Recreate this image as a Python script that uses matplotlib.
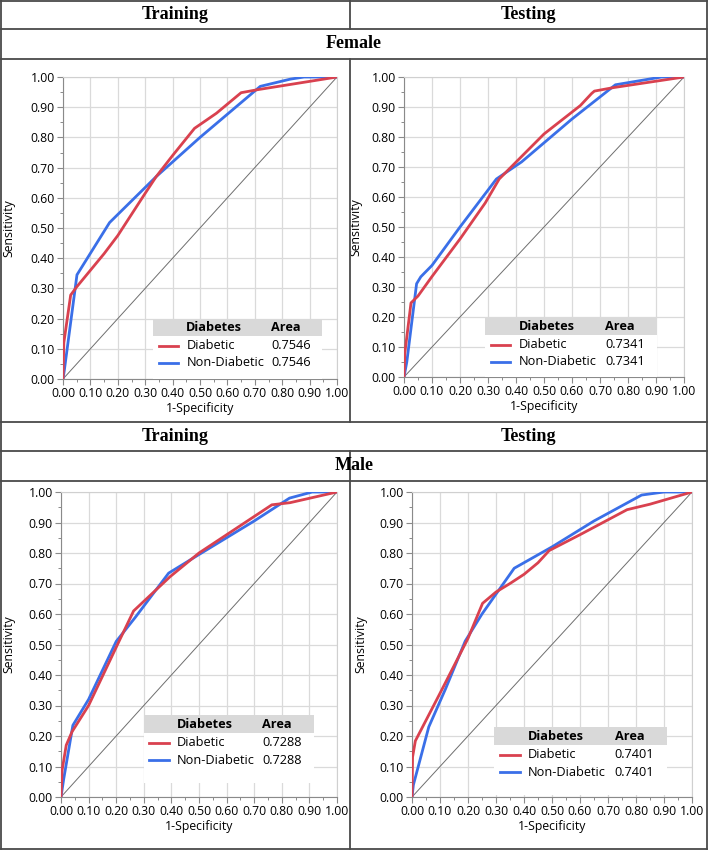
import numpy as np
import matplotlib
matplotlib.use("Agg")
import matplotlib.pyplot as plt
from matplotlib.lines import Line2D
from matplotlib.patches import Rectangle
from matplotlib.ticker import MultipleLocator, FormatStrFormatter

plt.rcParams['font.family'] = ['Open Sans', 'DejaVu Sans']

# ---- data ----
# Female / Training
ft_dia_x = [0, 0.003, 0.028, 0.05, 0.10, 0.15, 0.20, 0.25, 0.30, 0.34, 0.40, 0.48, 0.56, 0.65, 0.71, 1.0]
ft_dia_y = [0, 0.12, 0.278, 0.305, 0.36, 0.415, 0.475, 0.545, 0.615, 0.67, 0.74, 0.83, 0.88, 0.948, 0.958, 1.0]
ft_non_x = [0, 0.005, 0.051, 0.17, 0.34, 0.50, 0.72, 0.83, 0.88, 1.0]
ft_non_y = [0, 0.03, 0.345, 0.518, 0.67, 0.80, 0.969, 0.993, 1.0, 1.0]
# Female / Testing
fte_dia_x = [0, 0.003, 0.025, 0.05, 0.10, 0.20, 0.29, 0.34, 0.50, 0.63, 0.67, 0.68, 0.75, 1.0]
fte_dia_y = [0, 0.08, 0.247, 0.27, 0.335, 0.46, 0.58, 0.66, 0.81, 0.905, 0.945, 0.953, 0.965, 1.0]
fte_non_x = [0, 0.01, 0.045, 0.06, 0.10, 0.20, 0.33, 0.42, 0.60, 0.755, 0.92, 1.0]
fte_non_y = [0, 0.05, 0.311, 0.334, 0.372, 0.50, 0.66, 0.717, 0.86, 0.974, 1.0, 1.0]
# Male / Training
mt_dia_x = [0, 0.004, 0.019, 0.04, 0.10, 0.21, 0.263, 0.396, 0.50, 0.764, 0.83, 1.0]
mt_dia_y = [0, 0.088, 0.17, 0.214, 0.30, 0.51, 0.61, 0.723, 0.80, 0.958, 0.965, 1.0]
mt_non_x = [0, 0.01, 0.043, 0.10, 0.20, 0.27, 0.39, 0.50, 0.70, 0.828, 0.91, 1.0]
mt_non_y = [0, 0.06, 0.235, 0.32, 0.51, 0.59, 0.734, 0.795, 0.905, 0.98, 1.0, 1.0]
# Male / Testing
mte_dia_x = [0, 0.002, 0.012, 0.10, 0.20, 0.252, 0.30, 0.35, 0.40, 0.45, 0.49, 0.60, 0.768, 0.85, 1.0]
mte_dia_y = [0, 0.131, 0.184, 0.34, 0.52, 0.635, 0.672, 0.70, 0.73, 0.768, 0.808, 0.86, 0.942, 0.96, 1.0]
mte_non_x = [0, 0.005, 0.06, 0.12, 0.19, 0.25, 0.365, 0.50, 0.65, 0.82, 0.90, 1.0]
mte_non_y = [0, 0.04, 0.23, 0.355, 0.511, 0.60, 0.75, 0.82, 0.905, 0.99, 1.0, 1.0]

auc_values = [0.7546, 0.7341, 0.7288, 0.7401]
col_titles = ["Training", "Testing"]
row_titles = ["Female", "Male"]
legend_title = "Diabetes"
series_names = ["Diabetic", "Non-Diabetic"]

RED = '#d9414f'
BLUE = '#3a6fe8'
TXT = 8.8

W, H = 709, 851
fig = plt.figure(figsize=(W / 100, H / 100), dpi=100)


def px_axes(x0, x1, ytop, ybot):
    return fig.add_axes([x0 / W, 1 - ybot / H, (x1 - x0) / W, (ybot - ytop) / H])


def fig_line(x0, y0, x1, y1):
    fig.add_artist(Line2D([x0 / W, x1 / W], [1 - y0 / H, 1 - y1 / H],
                          transform=fig.transFigure, color='#4a4a4a', lw=1.3))


def roc_panel(ax, dia, non, auc, leg_x, leg_y, ylab_px):
    ax.plot([0, 1], [0, 1], color='#6e6e6e', lw=0.7, zorder=2)
    ax.plot(dia[0], dia[1], color=RED, lw=2.0, zorder=4)
    ax.plot(non[0], non[1], color=BLUE, lw=2.0, zorder=3)
    ax.set_xlim(0, 1)
    ax.set_ylim(0, 1)
    for axis in (ax.xaxis, ax.yaxis):
        axis.set_major_locator(MultipleLocator(0.1))
        axis.set_minor_locator(MultipleLocator(0.05))
        axis.set_major_formatter(FormatStrFormatter('%.2f'))
    ax.grid(True, which='major', color='#dadada', lw=0.9, zorder=0)
    ax.set_axisbelow(True)
    ax.tick_params(which='major', length=4, width=0.8, color='#8a8a8a', labelsize=TXT, pad=2)
    ax.tick_params(which='minor', length=2.5, width=0.7, color='#8a8a8a')
    for s in ['left', 'bottom']:
        ax.spines[s].set_color('#8a8a8a')
    for s in ['top', 'right']:
        ax.spines[s].set_color('#d0d0d0')
    ax.set_xlabel('1-Specificity', fontsize=TXT, labelpad=1)
    ax.set_ylabel('Sensitivity', fontsize=TXT)
    bbox = ax.get_position()
    ax.yaxis.set_label_coords(-ylab_px / (bbox.width * W), 0.5)

    # JMP-style legend table
    lw_box, hdr_h = 0.615, 0.058
    ax.add_patch(Rectangle((leg_x, leg_y - 0.165), lw_box, 0.165, transform=ax.transAxes,
                           facecolor='white', edgecolor='none', zorder=5))
    ax.add_patch(Rectangle((leg_x, leg_y), lw_box, hdr_h, transform=ax.transAxes,
                           facecolor='#d9d9d9', edgecolor='none', zorder=6))
    ty = leg_y + hdr_h / 2
    ax.text(leg_x + 0.12, ty, legend_title, transform=ax.transAxes, fontsize=TXT + 0.4,
            fontweight='bold', va='center', zorder=7)
    ax.text(leg_x + 0.43, ty, 'Area', transform=ax.transAxes, fontsize=TXT + 0.4,
            fontweight='bold', va='center', zorder=7)
    for i, (name, col) in enumerate(zip(series_names, [RED, BLUE])):
        ry = leg_y - 0.032 - i * 0.057
        ax.add_line(Line2D([leg_x + 0.02, leg_x + 0.09], [ry, ry], transform=ax.transAxes,
                           color=col, lw=2.0, zorder=7))
        ax.text(leg_x + 0.12, ry, name, transform=ax.transAxes, fontsize=TXT + 0.4,
                va='center', zorder=7)
        ax.text(leg_x + 0.43, ry, f'{auc:.4f}', transform=ax.transAxes, fontsize=TXT + 0.4,
                va='center', zorder=7)


ax1 = px_axes(63, 337, 77, 379)
roc_panel(ax1, (ft_dia_x, ft_dia_y), (ft_non_x, ft_non_y), auc_values[0], 0.33, 0.142, 48)
ax2 = px_axes(404, 684, 77, 377)
roc_panel(ax2, (fte_dia_x, fte_dia_y), (fte_non_x, fte_non_y), auc_values[1], 0.289, 0.139, 42)
ax3 = px_axes(61, 337, 492, 797)
roc_panel(ax3, (mt_dia_x, mt_dia_y), (mt_non_x, mt_non_y), auc_values[2], 0.30, 0.21, 46)
ax4 = px_axes(412, 692, 492, 797)
roc_panel(ax4, (mte_dia_x, mte_dia_y), (mte_non_x, mte_non_y), auc_values[3], 0.294, 0.17, 45)

# ---- table frame ----
fig_line(1, 0.5, 707, 0.5)
fig_line(1, 849, 707, 849)
fig_line(1, 0, 1, 849)
fig_line(707, 0, 707, 849)
for y in [29, 59, 422, 451, 481]:
    fig_line(1, y, 707, y)
fig_line(350, 0, 350, 29)
fig_line(350, 59, 350, 422)
fig_line(350, 451, 350, 481)
fig_line(350, 481, 350, 849)

hdr_font = dict(family='Liberation Serif', fontweight='bold', fontsize=13, ha='center', va='center')
for yc in [14.5, 436.5]:
    fig.text(175 / W, 1 - yc / H, col_titles[0], **hdr_font)
    fig.text(528 / W, 1 - yc / H, col_titles[1], **hdr_font)
fig.text(354 / W, 1 - 44 / H, row_titles[0], **hdr_font)
fig.text(354 / W, 1 - 466 / H, row_titles[1], **hdr_font)

fig.savefig('out.png', dpi=100)
